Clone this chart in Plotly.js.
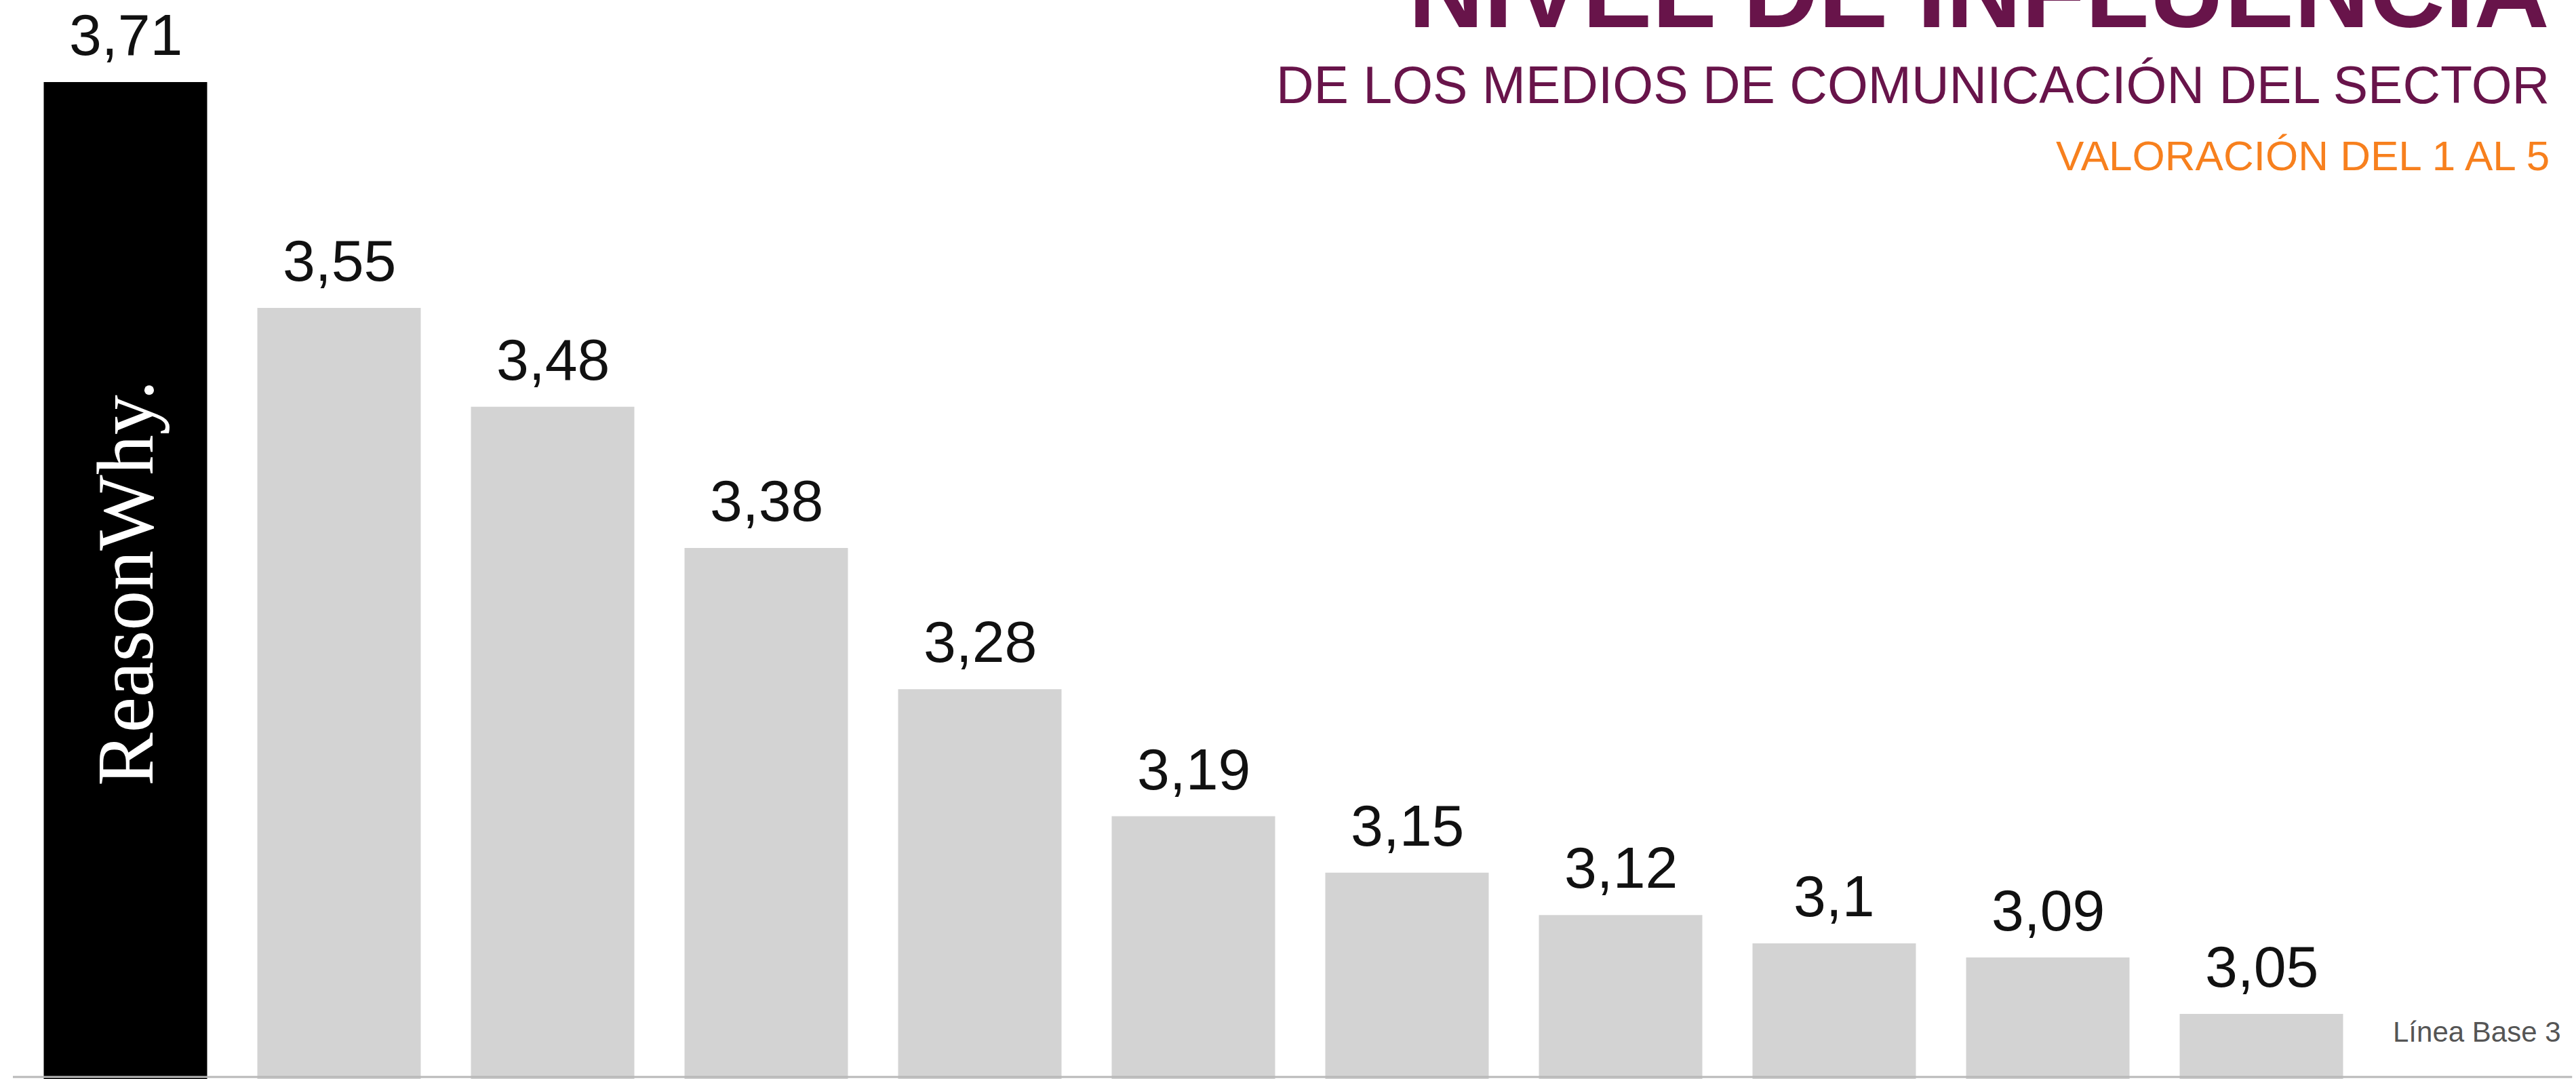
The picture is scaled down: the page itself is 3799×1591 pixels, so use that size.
<!DOCTYPE html>
<html>
<head>
<meta charset="utf-8">
<script src="https://cdn.plot.ly/plotly-3.0.1.min.js"></script>
<style>
  html, body { margin: 0; padding: 0; background: #ffffff; }
  #chart { width: 3799px; height: 1591px; }
</style>
</head>
<body>
<div id="chart"></div>
<script>
// ---- data ----
const ranks = [1, 2, 3, 4, 5, 6, 7, 8, 9, 10, 11];
const values = [3.71, 3.55, 3.48, 3.38, 3.28, 3.19, 3.15, 3.12, 3.1, 3.09, 3.05];
const brandLabel = "ReasonWhy.";
const baseline = 3;
const titleText = "NIVEL DE INFLUENCIA";
const subtitleText = "DE LOS MEDIOS DE COMUNICACIÓN DEL SECTOR";
const scaleText = "VALORACIÓN DEL 1 AL 5";
const baselineText = "Línea Base " + baseline;

// ---- styling ----
const barColors = values.map((v, i) => i === 0 ? "#000000" : "#d3d3d3");
const purple = "#68144a";
const orange = "#f7801e";

const fmt = v => String(v).replace(".", ",");

const trace = {
  type: "bar",
  x: ranks,
  y: values.map(v => v - baseline),
  base: baseline,
  marker: { color: barColors, line: { width: 0 } },
  hoverinfo: "skip"
};

const annotations = [];
ranks.forEach((r, i) => {
  annotations.push({
    x: r, y: values[i], xref: "x", yref: "y",
    text: fmt(values[i]),
    showarrow: false,
    xanchor: "center", yanchor: "middle",
    yshift: 70,
    font: { family: "Liberation Sans, Arial, sans-serif", size: 86, color: "#111111" }
  });
});

annotations.push({
  x: ranks[0], y: (baseline + values[0]) / 2, xref: "x", yref: "y",
  text: brandLabel, showarrow: false, textangle: -90,
  xanchor: "center", yanchor: "middle",
  font: { family: "Liberation Serif, Times New Roman, serif", size: 118, color: "#ffffff" }
});

annotations.push({
  x: 0.99026, y: 1.0082, xref: "paper", yref: "paper",
  text: "<b>" + titleText + "</b>", showarrow: false,
  xanchor: "right", yanchor: "middle",
  font: { family: "Liberation Sans, Arial, sans-serif", size: 154, color: purple }
});
annotations.push({
  x: 0.99026, y: 0.92143, xref: "paper", yref: "paper",
  text: subtitleText, showarrow: false,
  xanchor: "right", yanchor: "middle",
  font: { family: "Liberation Sans, Arial, sans-serif", size: 77, color: purple }
});
annotations.push({
  x: 0.99026, y: 0.85575, xref: "paper", yref: "paper",
  text: scaleText, showarrow: false,
  xanchor: "right", yanchor: "middle",
  font: { family: "Liberation Sans, Arial, sans-serif", size: 62, color: orange }
});
annotations.push({
  x: 0.9947, y: 0.0434, xref: "paper", yref: "paper",
  text: baselineText, showarrow: false,
  xanchor: "right", yanchor: "middle",
  font: { family: "Liberation Sans, Arial, sans-serif", size: 42, color: "#555555" }
});

const layout = {
  width: 3799, height: 1591,
  margin: { l: 0, r: 0, t: 0, b: 0, pad: 0 },
  paper_bgcolor: "#ffffff", plot_bgcolor: "#ffffff",
  showlegend: false,
  bargap: 0.235,
  xaxis: { range: [0.4127, 12.473], visible: false, fixedrange: true },
  yaxis: { range: [3.00388, 3.76812], visible: false, fixedrange: true },
  annotations: annotations,
  shapes: [{
    type: "line", xref: "paper", yref: "paper",
    x0: 0.005, x1: 0.9985, y0: 0.0019, y1: 0.0019,
    line: { color: "#b8b8b8", width: 3 }, layer: "above"
  }]
};

Plotly.newPlot("chart", [trace], layout, { staticPlot: true, displayModeBar: false });
</script>
</body>
</html>
